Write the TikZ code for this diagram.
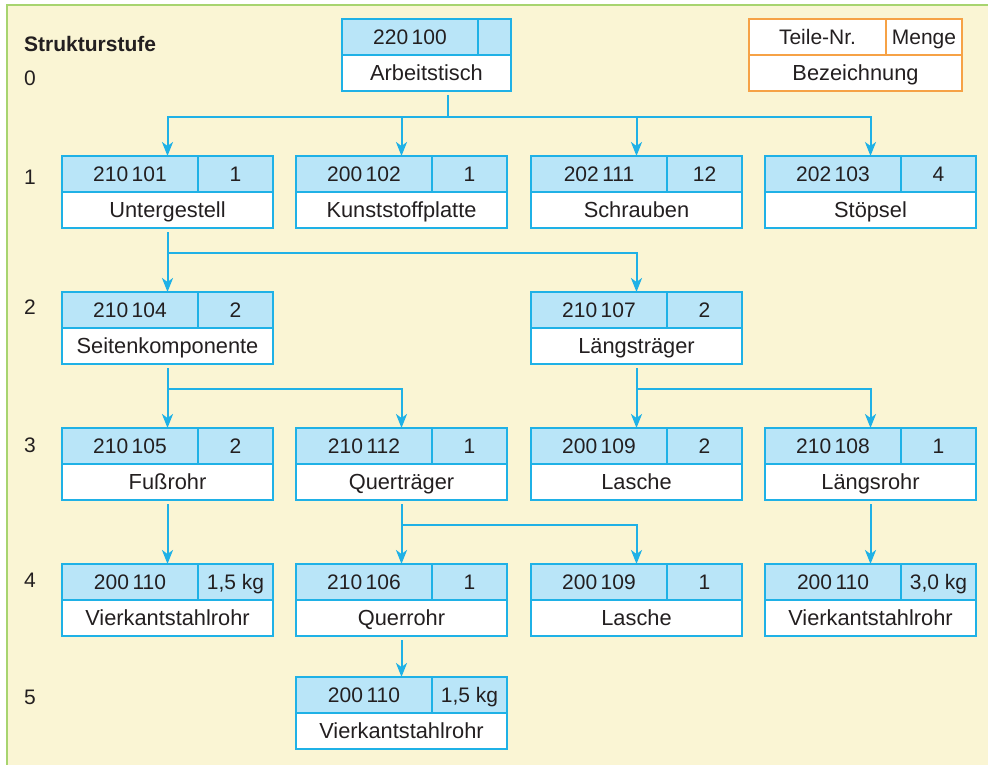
\documentclass[tikz,border=0pt]{standalone}
\usepackage{fontspec}
\setmainfont{Liberation Sans}
\usetikzlibrary{arrows.meta}
\definecolor{bg}{HTML}{FAF5D4}
\definecolor{frame}{HTML}{A7D46F}
\definecolor{cy}{HTML}{1FB1E6}
\definecolor{cyfill}{HTML}{B9E5F8}
\definecolor{org}{HTML}{F6A246}
\definecolor{txt}{HTML}{231F20}
\tikzset{
  conn/.style={draw=cy, line width=2pt},
  arr/.style={conn, -{Stealth[length=14pt,width=11pt,inset=4pt]}},
  cell/.style={draw=cy, line width=1.8pt, inner sep=0pt, outer sep=0pt, text=txt,
    font=\fontsize{21}{25}\selectfont, text height=15pt, text depth=0pt, align=center},
  outerbox/.style={cell, fill=white, minimum width=211pt, minimum height=72pt},
  numcell/.style={cell, fill=cyfill, minimum width=136pt, minimum height=36pt},
  qtycell/.style={cell, fill=cyfill, minimum width=75pt, minimum height=36pt},
  labcell/.style={cell, draw=none, minimum width=160pt, minimum height=36pt,
    font=\fontsize{21.8}{26}\selectfont, text height=15.5pt},
  lvl/.style={text=txt, inner sep=0pt, font=\fontsize{21}{25}\selectfont, anchor=base west},
}
\newcommand\partbox[6]{%
  \node[outerbox, anchor=north west] (#1) at (#2,#3) {};
  \node[numcell, anchor=north west] (#1-n) at (#1.north west) {#4};
  \node[qtycell, anchor=north east] (#1-q) at (#1.north east) {#5};
  \node[labcell, anchor=south] (#1-l) at (#1.south) {#6};
}
\begin{document}
\begin{tikzpicture}[x=1pt,y=-1pt]
\useasboundingbox (0,0) rectangle (988,765);
\fill[white] (0,0) rectangle (988,765);
\fill[bg] (7,5) rectangle (988,765);
\draw[frame, line width=2pt] (7,765) -- (7,5) -- (988,5);

% level labels
\node[lvl, font=\fontsize{21}{25}\selectfont\bfseries] (title) at (24,52) {Strukturstufe};
\node[lvl] (l0) at (24,86) {0};
\node[lvl] (l1) at (24,184.5) {1};
\node[lvl] (l2) at (24,314.5) {2};
\node[lvl] (l3) at (24,452.5) {3};
\node[lvl] (l4) at (24,587.5) {4};
\node[lvl] (l5) at (24,704.5) {5};

% top box
\node[outerbox, minimum width=169pt, anchor=north west] (top) at (342,19) {};
\node[numcell, anchor=north west] (top-n) at (top.north west) {220\,100};
\node[qtycell, minimum width=33pt, anchor=north east] (top-q) at (top.north east) {};
\node[labcell, anchor=south] (top-l) at (top.south) {Arbeitstisch};

% legend
\node[outerbox, draw=org, minimum width=213pt, anchor=north west] (leg) at (749,19) {};
\node[cell, draw=org, fill=white, minimum width=137pt, minimum height=36pt, anchor=north west] (leg-n) at (leg.north west) {Teile-Nr.};
\node[cell, draw=org, fill=white, minimum width=76pt, minimum height=36pt, anchor=north east] (leg-q) at (leg.north east) {Menge};
\node[labcell, anchor=south] (leg-l) at (leg.south) {Bezeichnung};

% level 1
\partbox{a1}{62}{156}{210\,101}{1}{Untergestell}
\partbox{a2}{296}{156}{200\,102}{1}{Kunststoffplatte}
\partbox{a3}{531}{156}{202\,111}{12}{Schrauben}
\partbox{a4}{765}{156}{202\,103}{4}{Stöpsel}
% level 2
\partbox{b1}{62}{292}{210\,104}{2}{Seitenkomponente}
\partbox{b3}{531}{292}{210\,107}{2}{Längsträger}
% level 3
\partbox{c1}{62}{428}{210\,105}{2}{Fußrohr}
\partbox{c2}{296}{428}{210\,112}{1}{Querträger}
\partbox{c3}{531}{428}{200\,109}{2}{Lasche}
\partbox{c4}{765}{428}{210\,108}{1}{Längsrohr}
% level 4
\partbox{d1}{62}{564}{200\,110}{1,5 kg}{Vierkantstahlrohr}
\partbox{d2}{296}{564}{210\,106}{1}{Querrohr}
\partbox{d3}{531}{564}{200\,109}{1}{Lasche}
\partbox{d4}{765}{564}{200\,110}{3,0 kg}{Vierkantstahlrohr}
% level 5
\partbox{e2}{296}{677}{200\,110}{1,5 kg}{Vierkantstahlrohr}

% connectors
\draw[conn] ([xshift=21.5pt,yshift=-4pt]top.south) -- ([xshift=21.5pt,yshift=-26pt]top.south) coordinate (j0);
\draw[arr] (j0) -| (a1.north);
\draw[arr] (j0) -| (a4.north);
\draw[arr] (a2.north |- j0) -- (a2.north);
\draw[arr] (a3.north |- j0) -- (a3.north);

\draw[arr] ([yshift=-4pt]a1.south) -- (b1.north);
\draw[arr] ([yshift=-25pt]a1.south) -| (b3.north);

\draw[arr] ([yshift=-4pt]b1.south) -- (c1.north);
\draw[arr] ([yshift=-25pt]b1.south) -| (c2.north);
\draw[arr] ([yshift=-4pt]b3.south) -- (c3.north);
\draw[arr] ([yshift=-25pt]b3.south) -| (c4.north);

\draw[arr] ([yshift=-4pt]c1.south) -- (d1.north);
\draw[arr] ([yshift=-4pt]c2.south) -- (d2.north);
\draw[arr] ([yshift=-25pt]c2.south) -| (d3.north);
\draw[arr] ([yshift=-4pt]c4.south) -- (d4.north);

\draw[arr] ([yshift=-4pt]d2.south) -- (e2.north);
\end{tikzpicture}
\end{document}
